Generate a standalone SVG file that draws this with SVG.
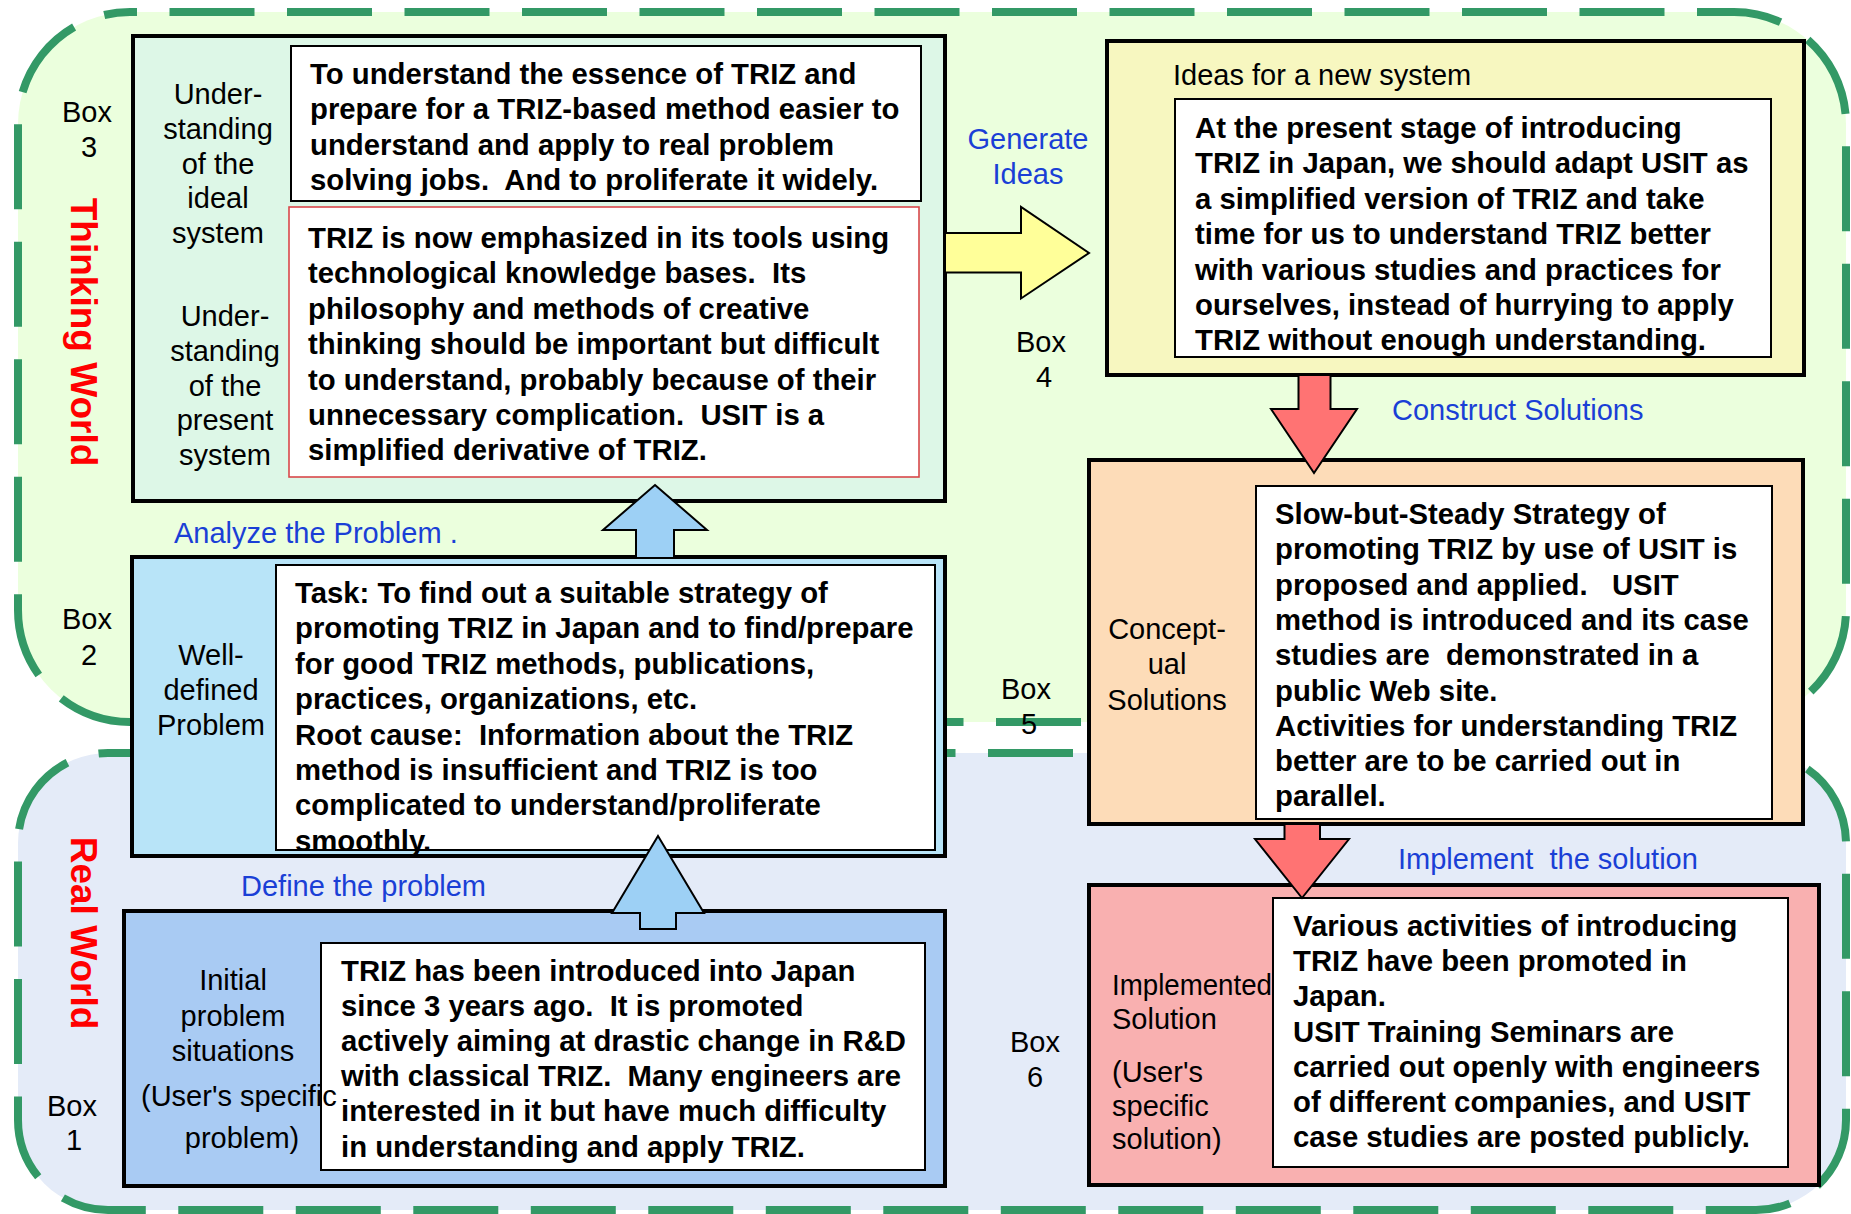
<svg xmlns="http://www.w3.org/2000/svg" width="1851" height="1214" viewBox="0 0 1851 1214">
  <style>
    .world-area { stroke: #339966; stroke-width: 8; stroke-dasharray: 85 32.5; }
    .box { stroke: #000; stroke-width: 4; }
    .inner { fill: #fff; stroke: #000; stroke-width: 2; }
    .arrow { stroke: #000; stroke-width: 2; stroke-linejoin: miter; }
    text { font-family: "Liberation Sans", Arial, sans-serif; font-size: 29px; fill: #000; }
    .b { font-weight: bold; font-size: 29.3px; }
    .c { text-anchor: middle; }
    .blue { fill: #1A3FD6; }
    .world { font-weight: bold; font-size: 37px; fill: #FF0000; text-anchor: middle; }
  </style>

  <!-- Thinking world region -->
  <g id="thinking-world">
    <rect class="world-area" x="18" y="12" width="1828" height="710" rx="112" ry="112" fill="#EBFFDD" stroke-dashoffset="78"/>
    <text class="world" transform="translate(71,332) rotate(90)">Thinking World</text>
  </g>

  <!-- Real world region -->
  <g id="real-world">
    <rect class="world-area" x="18" y="753" width="1828" height="457" rx="90" ry="90" fill="#E4EBF8" stroke-dashoffset="60"/>
    <text class="world" transform="translate(71,933) rotate(90)">Real World</text>
  </g>

  <!-- Box 3: understanding of the ideal / present system -->
  <g id="box3">
    <rect class="box" x="133" y="36" width="812" height="465" fill="#DDF7E7"/>
    <rect class="inner" x="291" y="46" width="630" height="155"/>
    <rect x="289" y="207" width="630" height="270" fill="#fff" stroke="#D9484A" stroke-width="1.6"/>
    <text class="c" x="87" y="122">Box<tspan x="89" dy="35">3</tspan></text>
    <text class="c" x="218" y="104">Under-<tspan x="218" dy="34.8">standing</tspan><tspan x="218" dy="34.8">of the</tspan><tspan x="218" dy="34.8">ideal</tspan><tspan x="218" dy="34.8">system</tspan></text>
    <text class="c" x="225" y="326">Under-<tspan x="225" dy="34.8">standing</tspan><tspan x="225" dy="34.8">of the</tspan><tspan x="225" dy="34.8">present</tspan><tspan x="225" dy="34.8">system</tspan></text>
    <text class="b" x="310" y="84">To understand the essence of TRIZ and<tspan x="310" dy="35.4">prepare for a TRIZ-based method easier to</tspan><tspan x="310" dy="35.4">understand and apply to real problem</tspan><tspan x="310" dy="35.4">solving jobs.&#160; And to proliferate it widely.</tspan></text>
    <text class="b" x="308" y="248">TRIZ is now emphasized in its tools using<tspan x="308" dy="35.4">technological knowledge bases.&#160; Its</tspan><tspan x="308" dy="35.4">philosophy and methods of creative</tspan><tspan x="308" dy="35.4">thinking should be important but difficult</tspan><tspan x="308" dy="35.4">to understand, probably because of their</tspan><tspan x="308" dy="35.4">unnecessary complication.&#160; USIT is a</tspan><tspan x="308" dy="35.4">simplified derivative of TRIZ.</tspan></text>
  </g>

  <!-- Box 2: well-defined problem -->
  <g id="box2">
    <rect class="box" x="132" y="557" width="813" height="299" fill="#B8E4F8"/>
    <rect class="inner" x="276" y="565" width="659" height="285"/>
    <text class="c" x="87" y="629">Box<tspan x="89" dy="36">2</tspan></text>
    <text class="c" x="211" y="665">Well-<tspan x="211" dy="35">defined</tspan><tspan x="211" dy="35">Problem</tspan></text>
    <text class="b" x="295" y="603">Task: To find out a suitable strategy of<tspan x="295" dy="35.4">promoting TRIZ in Japan and to find/prepare</tspan><tspan x="295" dy="35.4">for good TRIZ methods, publications,</tspan><tspan x="295" dy="35.4">practices, organizations, etc.</tspan><tspan x="295" dy="35.4">Root cause:&#160; Information about the TRIZ</tspan><tspan x="295" dy="35.4">method is insufficient and TRIZ is too</tspan><tspan x="295" dy="35.4">complicated to understand/proliferate</tspan><tspan x="295" dy="35.4">smoothly.</tspan></text>
  </g>

  <!-- Box 1: initial problem situations -->
  <g id="box1">
    <rect class="box" x="124" y="911" width="821" height="275" fill="#A9CBF3"/>
    <rect class="inner" x="321" y="943" width="604" height="227"/>
    <text class="c" x="72" y="1116">Box<tspan x="74" dy="34">1</tspan></text>
    <text class="c" x="233" y="990">Initial<tspan x="233" dy="36">problem</tspan><tspan x="233" dy="35">situations</tspan></text>
    <text x="141" y="1106">(User's specific</text>
    <text class="c" x="242" y="1148">problem)</text>
    <text class="b" x="341" y="981">TRIZ has been introduced into Japan<tspan x="341" dy="35.1">since 3 years ago.&#160; It is promoted</tspan><tspan x="341" dy="35.1">actively aiming at drastic change in R&amp;D</tspan><tspan x="341" dy="35.1">with classical TRIZ.&#160; Many engineers are</tspan><tspan x="341" dy="35.1">interested in it but have much difficulty</tspan><tspan x="341" dy="35.1">in understanding and apply TRIZ.</tspan></text>
  </g>

  <!-- Box 4: ideas for a new system -->
  <g id="box4">
    <rect class="box" x="1107" y="41" width="697" height="334" fill="#F7F7C0"/>
    <rect class="inner" x="1175" y="99" width="596" height="258"/>
    <text x="1173" y="85">Ideas for a new system</text>
    <text class="c" x="1041" y="352">Box<tspan x="1044" dy="35">4</tspan></text>
    <text class="b" x="1195" y="138">At the present stage of introducing<tspan x="1195" dy="35.4">TRIZ in Japan, we should adapt USIT as</tspan><tspan x="1195" dy="35.4">a simplified version of TRIZ and take</tspan><tspan x="1195" dy="35.4">time for us to understand TRIZ better</tspan><tspan x="1195" dy="35.4">with various studies and practices for</tspan><tspan x="1195" dy="35.4">ourselves, instead of hurrying to apply</tspan><tspan x="1195" dy="35.4">TRIZ without enough understanding.</tspan></text>
  </g>

  <!-- Box 5: conceptual solutions -->
  <g id="box5">
    <rect class="box" x="1089" y="460" width="714" height="364" fill="#FDDCB8"/>
    <rect class="inner" x="1256" y="486" width="516" height="333"/>
    <text class="c" x="1026" y="699">Box<tspan x="1029" dy="35">5</tspan></text>
    <text class="c" x="1167" y="639">Concept-<tspan x="1167" dy="35.3">ual</tspan><tspan x="1167" dy="35.3">Solutions</tspan></text>
    <text class="b" x="1275" y="524">Slow-but-Steady Strategy of<tspan x="1275" dy="35.3">promoting TRIZ by use of USIT is</tspan><tspan x="1275" dy="35.3">proposed and applied. &#160;&#160;USIT</tspan><tspan x="1275" dy="35.3">method is introduced and its case</tspan><tspan x="1275" dy="35.3">studies are &#160;demonstrated in a</tspan><tspan x="1275" dy="35.3">public Web site.</tspan><tspan x="1275" dy="35.3">Activities for understanding TRIZ</tspan><tspan x="1275" dy="35.3">better are to be carried out in</tspan><tspan x="1275" dy="35.3">parallel.</tspan></text>
  </g>

  <!-- Box 6: implemented solution -->
  <g id="box6">
    <rect class="box" x="1089" y="885" width="730" height="300" fill="#F9B0B0"/>
    <rect class="inner" x="1273" y="898" width="515" height="269"/>
    <text class="c" x="1035" y="1052">Box<tspan x="1035" dy="35">6</tspan></text>
    <text x="1112" y="995" textLength="160" lengthAdjust="spacingAndGlyphs">Implemented</text>
    <text x="1112" y="1029">Solution<tspan x="1112" dy="53">(User's</tspan><tspan x="1112" dy="33.5">specific</tspan><tspan x="1112" dy="33.1">solution)</tspan></text>
    <text class="b" x="1293" y="936">Various activities of introducing<tspan x="1293" dy="35.2">TRIZ have been promoted in</tspan><tspan x="1293" dy="35.2">Japan.</tspan><tspan x="1293" dy="35.2">USIT Training Seminars are</tspan><tspan x="1293" dy="35.2">carried out openly with engineers</tspan><tspan x="1293" dy="35.2">of different companies, and USIT</tspan><tspan x="1293" dy="35.2">case studies are posted publicly.</tspan></text>
  </g>

  <!-- Block arrows between the boxes, with their step labels -->
  <g id="connectors">
    <polygon class="arrow" fill="#9DD0F5" points="655,485 707,530 674,530 674,558 636,558 636,530 603,530"/>
    <polygon class="arrow" fill="#9DD0F5" points="658,836 704,913 676,913 676,929 640,929 640,913 612,913"/>
    <polygon class="arrow" fill="#FFFF99" points="945,233 1021,233 1021,207 1089,253 1021,298.5 1021,272.6 945,272.6"/>
    <polygon class="arrow" fill="#FF7373" points="1298.5,375 1330.5,375 1330.5,409 1357,409 1314,473 1271,409 1298.5,409"/>
    <polygon class="arrow" fill="#FF7373" points="1284.5,824 1320,824 1320,839 1349,839 1302,898 1255,839 1284.5,839"/>
    <text class="blue" x="174" y="543">Analyze the Problem .</text>
    <text class="blue" x="241" y="896">Define the problem</text>
    <text class="blue c" x="1028" y="149">Generate<tspan x="1028" dy="35">Ideas</tspan></text>
    <text class="blue" x="1392" y="420">Construct Solutions</text>
    <text class="blue" x="1398" y="869">Implement&#160; the solution</text>
  </g>
</svg>
